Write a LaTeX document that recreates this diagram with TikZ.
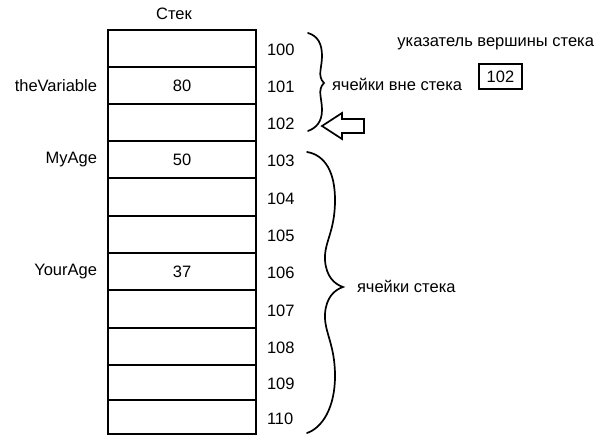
\documentclass[tikz,border=0pt]{standalone}
\usepackage{fontspec}
\setmainfont{Liberation Sans}
\begin{document}
\begin{tikzpicture}[x=1pt,y=-1pt,
  every node/.style={inner sep=0pt, outer sep=0pt, font=\fontsize{16.5}{19}\selectfont},
  cell/.style={draw, line width=1.6pt, minimum width=148pt},
  brace/.style={line width=1.7pt, line cap=round},
  ptrbox/.style={draw, line width=1.5pt, minimum width=43pt, minimum height=25pt}]
\useasboundingbox (0,0) rectangle (601,438);
\foreach \a/\t/\b in {100/30/67,101/67/104,102/104/141,103/141/178,104/178/216,105/216/253,106/253/290,107/290/328,108/328/365,109/365/400,110/400/434}{
  \node[cell, minimum height={(\b-\t)*1pt}] (c\a) at (182,{(\t+\b)/2}) {};
  \node[anchor=west, xshift=11pt, yshift=-1.5pt] (a\a) at (c\a.east) {\a};
}
\node (title) at (174,14) {Стек};
\node (v101) at (c101) {80};
\node (v103) at (c103) {50};
\node (v106) at (c106) {37};
\node[anchor=east, xshift=-11pt] (n101) at (c101.west) {theVariable};
\node[anchor=east, xshift=-11pt] (n103) at (c103.west) {MyAge};
\node[anchor=east, xshift=-11pt] (n106) at (c106.west) {YourAge};
% upper brace
\draw[brace] (308,33) .. controls (318,36) and (322,44) .. (322,56)
  .. controls (322,68) and (317,76) .. (324,83)
  .. controls (317,90) and (322,98) .. (322,110)
  .. controls (322,122) and (316,128) .. (308,131);
% lower brace
\draw[brace] (307,152) .. controls (325,155) and (335,172) .. (335,200)
  .. controls (335,232) and (324,242) .. (325,260)
  .. controls (326,276) and (334,284) .. (343,287)
  .. controls (334,290) and (326,298) .. (325,314)
  .. controls (324,332) and (335,344) .. (335,376)
  .. controls (335,408) and (322,428) .. (307,433);
\node[anchor=west] (outside) at (332,84) {ячейки вне стека};
\node[anchor=west] (inside) at (357,286) {ячейки стека};
\node[anchor=east] (ptrlabel) at (594,44) {указатель вершины стека};
\node[ptrbox] (ptr) at (500.5,76.5) {102};
% hollow arrow pointing to cell 102
\draw[line width=1.7pt, line join=miter] (322,126) -- (342,113) -- (342,119) -- (364,119)
  -- (364,133) -- (342,133) -- (342,139) -- cycle;
\end{tikzpicture}
\end{document}
